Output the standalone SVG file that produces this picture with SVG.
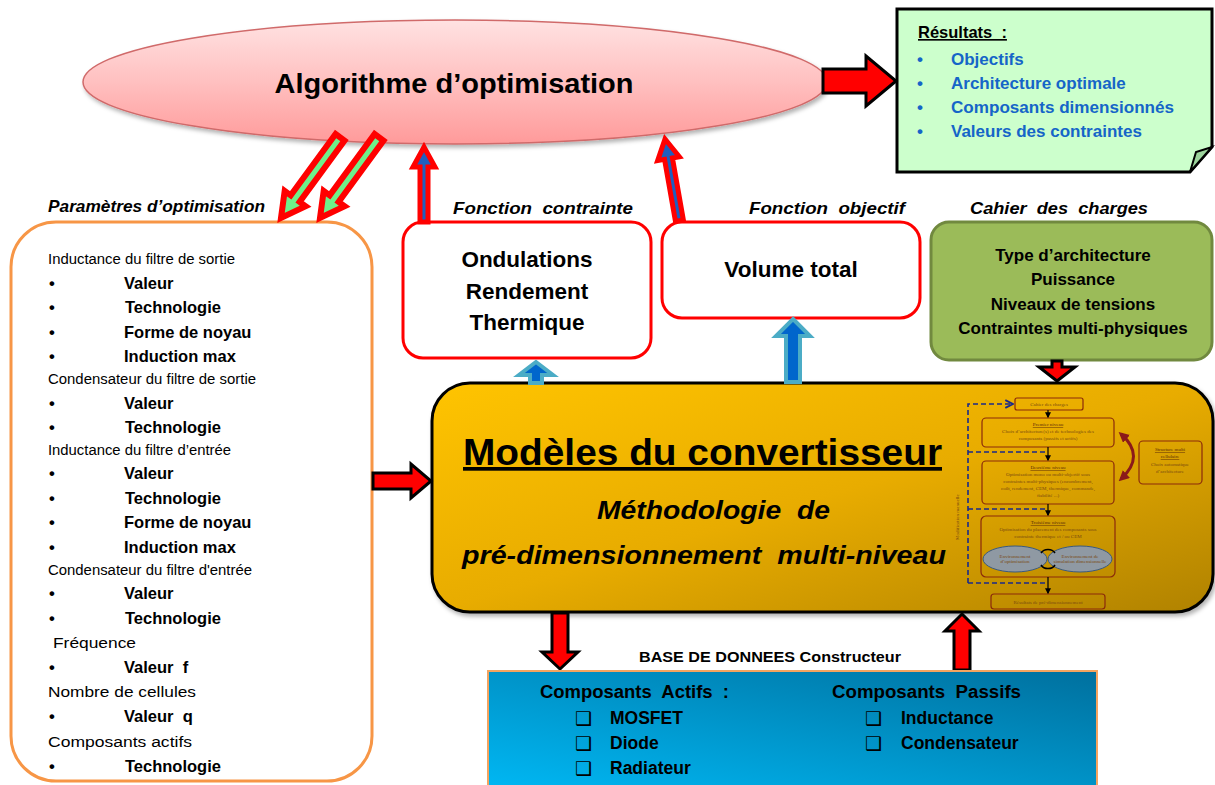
<svg xmlns="http://www.w3.org/2000/svg" width="1215" height="785" viewBox="0 0 1215 785">
<defs>
<linearGradient id="gEll" x1="0" y1="0" x2="0" y2="1">
<stop offset="0" stop-color="#ffe2e2"/><stop offset="0.5" stop-color="#ffc0c0"/><stop offset="1" stop-color="#ff9a9a"/>
</linearGradient>
<linearGradient id="gGold" x1="0" y1="0" x2="1" y2="1">
<stop offset="0" stop-color="#ffc400"/><stop offset="0.5" stop-color="#e8ac00"/><stop offset="1" stop-color="#b08200"/>
</linearGradient>
<linearGradient id="gBlue" x1="0" y1="1" x2="1" y2="0">
<stop offset="0" stop-color="#00b8f4"/><stop offset="1" stop-color="#00709e"/>
</linearGradient>
<marker id="mBlk" viewBox="0 0 10 10" refX="8" refY="5" markerWidth="5" markerHeight="5" orient="auto"><path d="M0,0 L10,5 L0,10 Z" fill="#000"/></marker>
<marker id="mDash" viewBox="0 0 10 10" refX="8" refY="5" markerWidth="6" markerHeight="6" orient="auto"><path d="M1,1 L9,5 L1,9" fill="none" stroke="#1a2a8a" stroke-width="2"/></marker>
<marker id="mRed" viewBox="0 0 10 10" refX="7" refY="5" markerWidth="3.5" markerHeight="3.5" orient="auto-start-reverse"><path d="M0,0 L10,5 L0,10 Z" fill="#8b1a1a"/></marker>
<filter id="sh" x="-5%" y="-5%" width="110%" height="115%"><feDropShadow dx="2" dy="3" stdDeviation="2" flood-color="#000" flood-opacity="0.3"/></filter>
</defs>
<style>
text{font-family:"Liberation Sans",Arial,sans-serif;fill:#000}
.b{font-weight:bold}
.bi{font-weight:bold;font-style:italic}
.reg{font-size:15.5px}
.it{font-size:16.5px;font-weight:bold}
.res{font-size:17px;font-weight:bold;fill:#1565c8}
.db{font-size:18px;font-weight:bold}
.dbi{font-size:17.5px;font-weight:bold}
.chk{font-family:"DejaVu Sans",sans-serif;font-size:19px;font-weight:bold}
.lab{font-size:16.5px;font-weight:bold;font-style:italic}
.grn{font-size:17px;font-weight:bold}
.red3{font-size:22.5px;font-weight:bold}
.sm{font-family:"Liberation Serif",serif;font-size:5px;fill:#7a4a10}
.smu{font-family:"Liberation Serif",serif;font-size:5px;fill:#5a2a08;text-decoration:underline}
.ga{fill:#6ef08a;stroke:#ff0000;stroke-width:6;stroke-linejoin:miter}
.ba{fill:#1f5fbf;stroke:#ff0000;stroke-width:5;stroke-linejoin:miter}
.la{fill:#0066cc;stroke:#4bacc6;stroke-width:4;stroke-linejoin:miter}
.ra{fill:#ff0000;stroke:#000;stroke-width:3;stroke-linejoin:miter}
.sbox{fill:none;stroke:#8b2a0a;stroke-width:1.2}
.dash{fill:none;stroke:#1a2a8a;stroke-width:1.6;stroke-dasharray:5,3}
</style>

<g id="algorithme">
<ellipse cx="455" cy="82" rx="372" ry="62" fill="url(#gEll)" stroke="#d06a6a" stroke-width="1.5" filter="url(#sh)"/>
<text x="454" y="93" class="b" font-size="28.5" text-anchor="middle" textLength="359" lengthAdjust="spacingAndGlyphs">Algorithme d’optimisation</text>
</g>

<g id="resultats">
<path d="M897,9 H1212 V147 L1190,172 H897 Z" fill="#ccffcc" stroke="#000" stroke-width="3" stroke-linejoin="miter"/>
<path d="M1190,172 L1196,152 L1212,147 Z" fill="#9cd49c" stroke="#000" stroke-width="2"/>
<text x="918" y="38" class="b" font-size="16.5" text-decoration="underline" xml:space="preserve">Résultats  :</text>
<text x="917" y="65" class="res">•</text><text x="951" y="65" class="res">Objectifs</text>
<text x="917" y="89" class="res">•</text><text x="951" y="89" class="res">Architecture optimale</text>
<text x="917" y="113" class="res">•</text><text x="951" y="113" class="res" textLength="223" lengthAdjust="spacingAndGlyphs">Composants dimensionnés</text>
<text x="917" y="137" class="res">•</text><text x="951" y="137" class="res">Valeurs des contraintes</text>
</g>

<g id="parametres">
<text x="48" y="212" class="lab" textLength="217" lengthAdjust="spacingAndGlyphs">Paramètres d’optimisation</text>
<rect x="11" y="222" width="361" height="559" rx="45" fill="#fff" stroke="#f79646" stroke-width="3"/>
<text x="48" y="264" class="reg" textLength="187" lengthAdjust="spacingAndGlyphs">Inductance du filtre de sortie</text>
<text x="49" y="289" class="it">•</text><text x="124" y="289" class="it">Valeur</text>
<text x="49" y="313" class="it">•</text><text x="125" y="313" class="it">Technologie</text>
<text x="49" y="338" class="it">•</text><text x="124" y="338" class="it">Forme de noyau</text>
<text x="49" y="362" class="it">•</text><text x="124" y="362" class="it">Induction max</text>
<text x="48" y="384" class="reg" textLength="208" lengthAdjust="spacingAndGlyphs">Condensateur du filtre de sortie</text>
<text x="49" y="409" class="it">•</text><text x="124" y="409" class="it">Valeur</text>
<text x="49" y="433" class="it">•</text><text x="125" y="433" class="it">Technologie</text>
<text x="48" y="455" class="reg" textLength="183" lengthAdjust="spacingAndGlyphs">Inductance du filtre d’entrée</text>
<text x="49" y="479" class="it">•</text><text x="124" y="479" class="it">Valeur</text>
<text x="49" y="504" class="it">•</text><text x="125" y="504" class="it">Technologie</text>
<text x="49" y="528" class="it">•</text><text x="124" y="528" class="it">Forme de noyau</text>
<text x="49" y="553" class="it">•</text><text x="124" y="553" class="it">Induction max</text>
<text x="48" y="575" class="reg" textLength="204" lengthAdjust="spacingAndGlyphs">Condensateur du filtre d'entrée</text>
<text x="49" y="599" class="it">•</text><text x="124" y="599" class="it">Valeur</text>
<text x="49" y="624" class="it">•</text><text x="125" y="624" class="it">Technologie</text>
<text x="53" y="648" class="reg" textLength="83" lengthAdjust="spacingAndGlyphs">Fréquence</text>
<text x="49" y="673" class="it">•</text><text x="124" y="673" class="it" xml:space="preserve">Valeur  f</text>
<text x="48" y="697" class="reg" textLength="148" lengthAdjust="spacingAndGlyphs">Nombre de cellules</text>
<text x="49" y="722" class="it">•</text><text x="124" y="722" class="it" xml:space="preserve">Valeur  q</text>
<text x="48" y="747" class="reg" textLength="144" lengthAdjust="spacingAndGlyphs">Composants actifs</text>
<text x="49" y="772" class="it">•</text><text x="125" y="772" class="it">Technologie</text>
</g>

<g id="contrainte">
<text x="453" y="214" class="lab" textLength="180" lengthAdjust="spacingAndGlyphs" xml:space="preserve">Fonction  contrainte</text>
<rect x="403" y="222" width="248" height="136" rx="20" fill="#fff" stroke="#ff0000" stroke-width="3"/>
<text x="527" y="267" class="red3" text-anchor="middle">Ondulations</text>
<text x="527" y="299" class="red3" text-anchor="middle">Rendement</text>
<text x="527" y="330" class="red3" text-anchor="middle">Thermique</text>
</g>

<g id="objectif">
<text x="749" y="214" class="lab" textLength="156" lengthAdjust="spacingAndGlyphs" xml:space="preserve">Fonction  objectif</text>
<rect x="662" y="222" width="258" height="96" rx="20" fill="#fff" stroke="#ff0000" stroke-width="3"/>
<text x="791" y="277" class="b" font-size="22.5" text-anchor="middle">Volume total</text>
</g>

<g id="cahier">
<text x="970" y="214" class="lab" textLength="178" lengthAdjust="spacingAndGlyphs" xml:space="preserve">Cahier  des  charges</text>
<rect x="931" y="222" width="281" height="138" rx="18" fill="#9bbb59" stroke="#71893f" stroke-width="3"/>
<text x="1073" y="261" class="grn" text-anchor="middle">Type d’architecture</text>
<text x="1073" y="285" class="grn" text-anchor="middle">Puissance</text>
<text x="1073" y="310" class="grn" text-anchor="middle">Niveaux de tensions</text>
<text x="1073" y="334" class="grn" text-anchor="middle">Contraintes multi-physiques</text>
</g>

<g id="modeles">
<rect x="432" y="383" width="781" height="229" rx="38" fill="url(#gGold)" stroke="#000" stroke-width="3" filter="url(#sh)"/>
<text x="463" y="465" class="b" font-size="37" textLength="479" lengthAdjust="spacingAndGlyphs" text-decoration="underline">Modèles du convertisseur</text>
<text x="597" y="519" class="bi" font-size="26" textLength="233" lengthAdjust="spacingAndGlyphs" xml:space="preserve">Méthodologie  de</text>
<text x="462" y="564" class="bi" font-size="26" textLength="484" lengthAdjust="spacingAndGlyphs" xml:space="preserve">pré-dimensionnement  multi-niveau</text>
</g>

<g id="methodologie">
<text transform="translate(959,540) rotate(-90)" class="sm" font-size="4.5">Modification manuelle</text>
<rect x="1015" y="398" width="68" height="12" rx="2" class="sbox"/>
<text x="1049" y="406" class="sm" text-anchor="middle">Cahier des charges</text>
<rect x="982" y="418" width="132" height="29" rx="4" class="sbox"/>
<text x="1048" y="426" class="smu" text-anchor="middle">Premier niveau</text>
<text x="1048" y="433" class="sm" text-anchor="middle">Choix d’architecture(s) et de technologies des</text>
<text x="1048" y="440" class="sm" text-anchor="middle">composants (passifs et actifs)</text>
<rect x="982" y="461" width="132" height="43" rx="4" class="sbox"/>
<text x="1048" y="469" class="smu" text-anchor="middle">Deuxième niveau</text>
<text x="1048" y="476" class="sm" text-anchor="middle">Optimisation mono ou multi-objectif sous</text>
<text x="1048" y="483" class="sm" text-anchor="middle">contraintes multi-physiques (encombrement,</text>
<text x="1048" y="490" class="sm" text-anchor="middle">coût, rendement, CEM, thermique, commande,</text>
<text x="1048" y="497" class="sm" text-anchor="middle">fiabilité ...)</text>
<rect x="1139" y="441" width="63" height="43" rx="4" class="sbox"/>
<text x="1170" y="451" class="smu" text-anchor="middle">Structure multi</text>
<text x="1170" y="458" class="smu" text-anchor="middle">cellulaire</text>
<text x="1170" y="466" class="sm" text-anchor="middle">Choix automatique</text>
<text x="1170" y="473" class="sm" text-anchor="middle">d’architecture</text>
<rect x="981" y="516" width="134" height="61" rx="5" class="sbox"/>
<text x="1048" y="524" class="smu" text-anchor="middle">Troisième niveau</text>
<text x="1048" y="531" class="sm" text-anchor="middle">Optimisation du placement des composants sous</text>
<text x="1048" y="538" class="sm" text-anchor="middle">contrainte thermique et / ou CEM</text>
<ellipse cx="1015" cy="559" rx="32" ry="13" fill="#8f99a3" stroke="#3a5a80" stroke-width="1"/>
<ellipse cx="1080" cy="559" rx="32" ry="13" fill="#8f99a3" stroke="#3a5a80" stroke-width="1"/>
<text x="1015" y="558" class="sm" font-size="4" fill="#333" text-anchor="middle">Environnement</text>
<text x="1015" y="563" class="sm" font-size="4" fill="#333" text-anchor="middle">d’optimisation</text>
<text x="1080" y="558" class="sm" font-size="4" fill="#333" text-anchor="middle">Environnement de</text>
<text x="1080" y="563" class="sm" font-size="4" fill="#333" text-anchor="middle">simulation dimensionnelle</text>
<rect x="991" y="594" width="114" height="15" rx="3" class="sbox"/>
<text x="1048" y="603.5" class="sm" text-anchor="middle">Résultats de pré-dimensionnement</text>
</g>

<g id="connectors">
<polygon class="ga" transform="translate(281,218) rotate(-143.8)" points="0,0 13,24 5.5,24 5.5,100 -5.5,100 -5.5,24 -13,24"/>
<polygon class="ga" transform="translate(320,218) rotate(-143.8)" points="0,0 13,24 5.5,24 5.5,100 -5.5,100 -5.5,24 -13,24"/>
<polygon class="ba" transform="translate(424,147) rotate(0)" points="0,0 11,20 4,20 4,75 -4,75 -4,20 -11,20"/>
<polygon class="ba" transform="translate(665,139) rotate(-10)" points="0,0 11,20 4,20 4,83 -4,83 -4,20 -11,20"/>
<polygon class="la" transform="translate(536,362)" points="0,0 17,13 6,13 6,21 -6,21 -6,13 -17,13"/>
<polygon class="la" transform="translate(793,319)" points="0,0 17,17 7,17 7,63 -7,63 -7,17 -17,17"/>
<polygon class="ra" transform="translate(431,481) rotate(90)" points="0,0 17,20 8,20 8,58 -8,58 -8,20 -17,20"/>
<polygon class="ra" transform="translate(896,81) rotate(90)" points="0,0 25,30 12,30 12,73 -12,73 -12,30 -25,30"/>
<polygon class="ra" transform="translate(1057,381) rotate(180)" points="0,0 18,14 5,14 5,20 -5,20 -5,14 -18,14"/>
<polygon class="ra" transform="translate(560,669) rotate(180)" points="0,0 18,17 8,17 8,56 -8,56 -8,17 -18,17"/>
<polygon class="ra" transform="translate(962,614)" points="0,0 17,17 8,17 8,56 -8,56 -8,17 -17,17"/>
<path class="dash" d="M968,583 V404 H1012" marker-end="url(#mDash)"/>
<path class="dash" d="M968,452 H1048"/>
<path class="dash" d="M968,509 H1048"/>
<path class="dash" d="M968,583 H1048"/>
<line x1="1048" y1="410" x2="1048" y2="417" stroke="#000" stroke-width="1.2" marker-end="url(#mBlk)"/>
<line x1="1048" y1="447" x2="1048" y2="460" stroke="#000" stroke-width="1.2" marker-end="url(#mBlk)"/>
<line x1="1048" y1="504" x2="1048" y2="515" stroke="#000" stroke-width="1.2" marker-end="url(#mBlk)"/>
<line x1="1048" y1="577" x2="1048" y2="593" stroke="#000" stroke-width="1.2" marker-end="url(#mBlk)"/>
<path d="M1121,434 Q1146,456 1121,479" fill="none" stroke="#8b1a1a" stroke-width="3" marker-start="url(#mRed)" marker-end="url(#mRed)"/>
<path d="M1041,553 A8,7 0 0,1 1055,553" fill="none" stroke="#000" stroke-width="1.5"/>
<path d="M1041,565 A8,7 0 0,0 1055,565" fill="none" stroke="#000" stroke-width="1.5"/>
</g>

<g id="base">
<text x="770" y="662" class="b" font-size="14.5" text-anchor="middle" textLength="262" lengthAdjust="spacingAndGlyphs">BASE DE DONNEES Constructeur</text>
<rect x="488" y="671" width="609" height="120" fill="url(#gBlue)" stroke="#f4a460" stroke-width="2"/>
<text x="540" y="698" class="db" textLength="189" lengthAdjust="spacingAndGlyphs" xml:space="preserve">Composants  Actifs  :</text>
<text x="832" y="698" class="db" textLength="189" lengthAdjust="spacingAndGlyphs" xml:space="preserve">Composants  Passifs</text>
<text x="575" y="725" class="chk">❑</text><text x="610" y="724" class="dbi">MOSFET</text>
<text x="575" y="750" class="chk">❑</text><text x="610" y="749" class="dbi">Diode</text>
<text x="575" y="775" class="chk">❑</text><text x="610" y="774" class="dbi">Radiateur</text>
<text x="865" y="725" class="chk">❑</text><text x="901" y="724" class="dbi">Inductance</text>
<text x="865" y="750" class="chk">❑</text><text x="901" y="749" class="dbi">Condensateur</text>
</g>
</svg>
